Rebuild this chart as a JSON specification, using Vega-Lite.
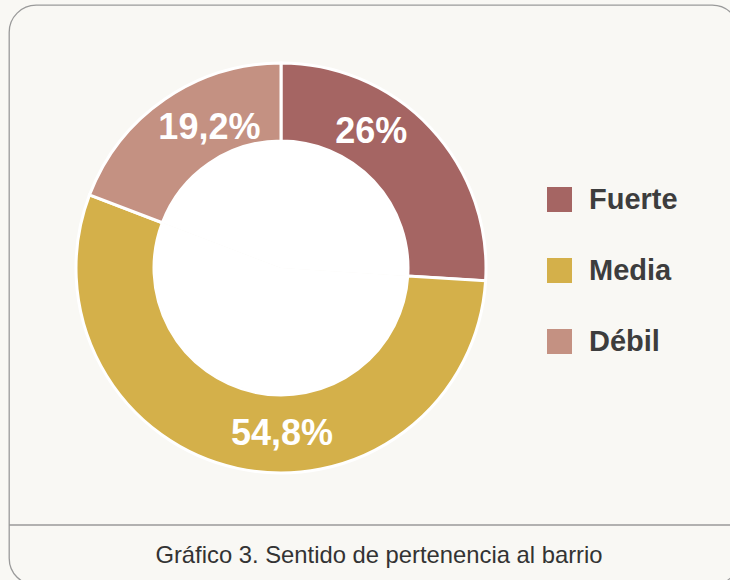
{
  "$schema": "https://vega.github.io/schema/vega-lite/v6.json",
  "width": 730,
  "height": 580,
  "autosize": {"type": "none"},
  "padding": {"left": 9, "top": 5, "right": 0, "bottom": 0},
  "background": "#f9f8f4",
  "config": {
    "view": {"stroke": "#9a9a9a", "strokeWidth": 1.3, "cornerRadius": 27, "fill": "#f9f8f4"}
  },
  "title": {
    "text": "Gráfico 3. Sentido de pertenencia al barrio",
    "orient": "bottom",
    "anchor": "middle",
    "offset": -41,
    "dx": 5,
    "font": "Liberation Sans",
    "fontSize": 23.8,
    "fontWeight": "normal",
    "color": "#333333"
  },
  "data": {
    "values": [
      {"categoria": "Fuerte", "valor": 26, "orden": 1, "etiqueta": "26%"},
      {"categoria": "Media", "valor": 54.8, "orden": 2, "etiqueta": "54,8%"},
      {"categoria": "Débil", "valor": 19.2, "orden": 3, "etiqueta": "19,2%"}
    ]
  },
  "layer": [
    {
      "mark": {"type": "arc", "x": 272, "y": 263, "outerRadius": 205, "innerRadius": 127, "stroke": "white", "strokeWidth": 3},
      "encoding": {
        "theta": {"field": "valor", "type": "quantitative", "stack": true},
        "order": {"field": "orden", "type": "quantitative"},
        "color": {
          "field": "categoria",
          "type": "nominal",
          "scale": {"domain": ["Fuerte", "Media", "Débil"], "range": ["#a56563", "#d4b04a", "#c49182"]},
          "legend": {
            "orient": "none",
            "legendX": 536,
            "legendY": 180,
            "title": null,
            "symbolType": "square",
            "symbolSize": 625,
            "symbolStrokeWidth": 0,
            "symbolOpacity": 1,
            "labelFont": "Liberation Sans",
            "labelFontSize": 29,
            "labelFontWeight": "bold",
            "labelColor": "#3d3d3d",
            "labelOffset": 15,
            "rowPadding": 41,
            "padding": 0
          }
        }
      }
    },
    {
      "mark": {"type": "arc", "x": 272, "y": 263, "outerRadius": 126, "innerRadius": 0, "fill": "white", "strokeWidth": 0},
      "encoding": {
        "theta": {"field": "valor", "type": "quantitative", "stack": true},
        "order": {"field": "orden", "type": "quantitative"}
      }
    },
    {
      "mark": {
        "type": "text",
        "x": 272,
        "y": 263,
        "radius": 165,
        "font": "Liberation Sans",
        "fontSize": 36,
        "fontWeight": "bold",
        "fill": "white",
        "dx": {"expr": "datum.categoria == 'Fuerte' ? -30 : datum.categoria == 'Media' ? 36 : 22"},
        "dy": {"expr": "datum.categoria == 'Fuerte' ? -23 : datum.categoria == 'Media' ? 5 : -4"}
      },
      "encoding": {
        "theta": {"field": "valor", "type": "quantitative", "stack": true},
        "order": {"field": "orden", "type": "quantitative"},
        "text": {"field": "etiqueta", "type": "nominal"}
      }
    },
    {
      "data": {"values": [{"linea": "separador"}]},
      "mark": {"type": "rule", "stroke": "#9a9a9a", "strokeWidth": 1.3},
      "encoding": {"y": {"value": 520}, "x": {"value": 0}, "x2": {"value": 730}}
    }
  ]
}
